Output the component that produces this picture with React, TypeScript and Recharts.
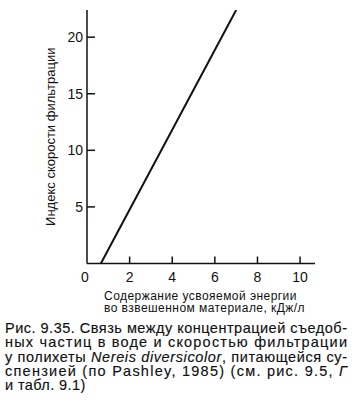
import React from 'react';
import { LineChart, Line, XAxis, YAxis, Label } from 'recharts';

// Data
const energyContent = [0.65, 7.0]; // кДж/л
const filtrationIndex = [0, 22.4];
const xTicks = [0, 2, 4, 6, 8, 10];
const yTicks = [5, 10, 15, 20];
const xDomain = [0, 10.7];
const yDomain = [0, 22.4];
const yTitle = 'Индекс скорости фильтрации';
const xTitle = ['Содержание усвояемой энергии', 'во взвешенном материале, кДж/л'];

const data = energyContent.map((x, i) => ({ x, y: filtrationIndex[i] }));

const FONT = '"Liberation Sans", Arial, Helvetica, sans-serif';
const INK = '#111';

const XTick = (props: any) => {
  const { x, y, payload } = props;
  return (
    <g>
      {payload.value !== 0 && (
        <line x1={x} x2={x} y1={y} y2={y - 7} stroke={INK} strokeWidth={1.5} />
      )}
      <text x={x - (payload.value === 0 ? 2 : 0)} y={y + 18} textAnchor="middle" fontSize={14} fill={INK} fontFamily={FONT}>
        {payload.value}
      </text>
    </g>
  );
};

const YTick = (props: any) => {
  const { x, y, payload } = props;
  return (
    <g>
      <line x1={x} x2={x + 8} y1={y} y2={y} stroke={INK} strokeWidth={1.5} />
      <text x={x - 4} y={y + 5} textAnchor="end" fontSize={14} fill={INK} fontFamily={FONT}>
        {payload.value}
      </text>
    </g>
  );
};

const YTitle = (props: any) => {
  const vb = props.viewBox || { x: 0, y: 10, width: 87, height: 253 };
  const cx = 50;
  const cy = vb.y + vb.height / 2;
  return (
    <text
      x={cx}
      y={cy}
      transform={`rotate(-90, ${cx}, ${cy})`}
      textAnchor="middle"
      dominantBaseline="central"
      fontSize={13}
      fill={INK}
      fontFamily={FONT}
    >
      {yTitle}
    </text>
  );
};

const XTitle = (props: any) => {
  const vb = props.viewBox || { x: 87, y: 263.5, width: 228, height: 54 };
  const cx = vb.x + vb.width / 2;
  return (
    <g>
      <text x={cx - 0.5} y={vb.y + 36} textAnchor="middle" fontSize={12} letterSpacing={0.45} fill={INK} fontFamily={FONT}>
        {xTitle[0]}
      </text>
      <text x={cx + 3.5} y={vb.y + 48.5} textAnchor="middle" fontSize={12} letterSpacing={0.45} fill={INK} fontFamily={FONT}>
        {xTitle[1]}
      </text>
    </g>
  );
};

const capText = {
  fontFamily: FONT,
  fontSize: 14.5,
  fill: INK,
  stroke: INK,
  strokeWidth: 0.15,
} as const;

export default function App() {
  const lineX = 5;
  const lineW = 342;
  const base0 = 333;
  const step = 14.3;
  return (
    <div style={{ position: 'absolute', left: 0, top: 0, width: 356, height: 418, background: '#fff', overflow: 'hidden' }}>
      <LineChart
        width={356}
        height={318}
        data={data}
        margin={{ top: 10, right: 41, left: 0, bottom: 0.5 }}
      >
        <XAxis
          type="number"
          dataKey="x"
          domain={xDomain}
          ticks={xTicks}
          interval={0}
          height={54}
          tickSize={0}
          tickMargin={0}
          tickLine={false}
          tick={<XTick />}
          axisLine={{ stroke: INK, strokeWidth: 1.5 }}
          allowDataOverflow
        >
          <Label content={<XTitle />} />
        </XAxis>
        <YAxis
          type="number"
          dataKey="y"
          domain={yDomain}
          ticks={yTicks}
          interval={0}
          width={87}
          tickSize={0}
          tickMargin={0}
          tickLine={false}
          tick={<YTick />}
          axisLine={{ stroke: INK, strokeWidth: 1.5 }}
          allowDataOverflow
        >
          <Label content={<YTitle />} />
        </YAxis>
        <Line
          type="linear"
          dataKey="y"
          stroke={INK}
          strokeWidth={2}
          dot={false}
          isAnimationActive={false}
        />
      </LineChart>
      <svg
        width={356}
        height={418}
        style={{ position: 'absolute', left: 0, top: 0, pointerEvents: 'none' }}
      >
        <text {...capText} x={lineX} y={base0} textLength={lineW} lengthAdjust="spacing">
          Рис. 9.35. Связь между концентрацией съедоб-
        </text>
        <text {...capText} x={lineX} y={base0 + step} textLength={lineW} lengthAdjust="spacing">
          ных частиц в воде и скоростью фильтрации
        </text>
        <text {...capText} x={lineX} y={base0 + 2 * step} textLength={lineW} lengthAdjust="spacing">
          у полихеты <tspan fontStyle="italic">Nereis diversicolor</tspan>, питающейся су-
        </text>
        <text {...capText} x={lineX} y={base0 + 3 * step} textLength={lineW} lengthAdjust="spacing">
          спензией (по Pashley, 1985) (см. рис. 9.5, <tspan fontStyle="italic">Г</tspan>
        </text>
        <text {...capText} x={lineX} y={base0 + 4 * step} letterSpacing={0.4}>
          и табл. 9.1)
        </text>
      </svg>
    </div>
  );
}
